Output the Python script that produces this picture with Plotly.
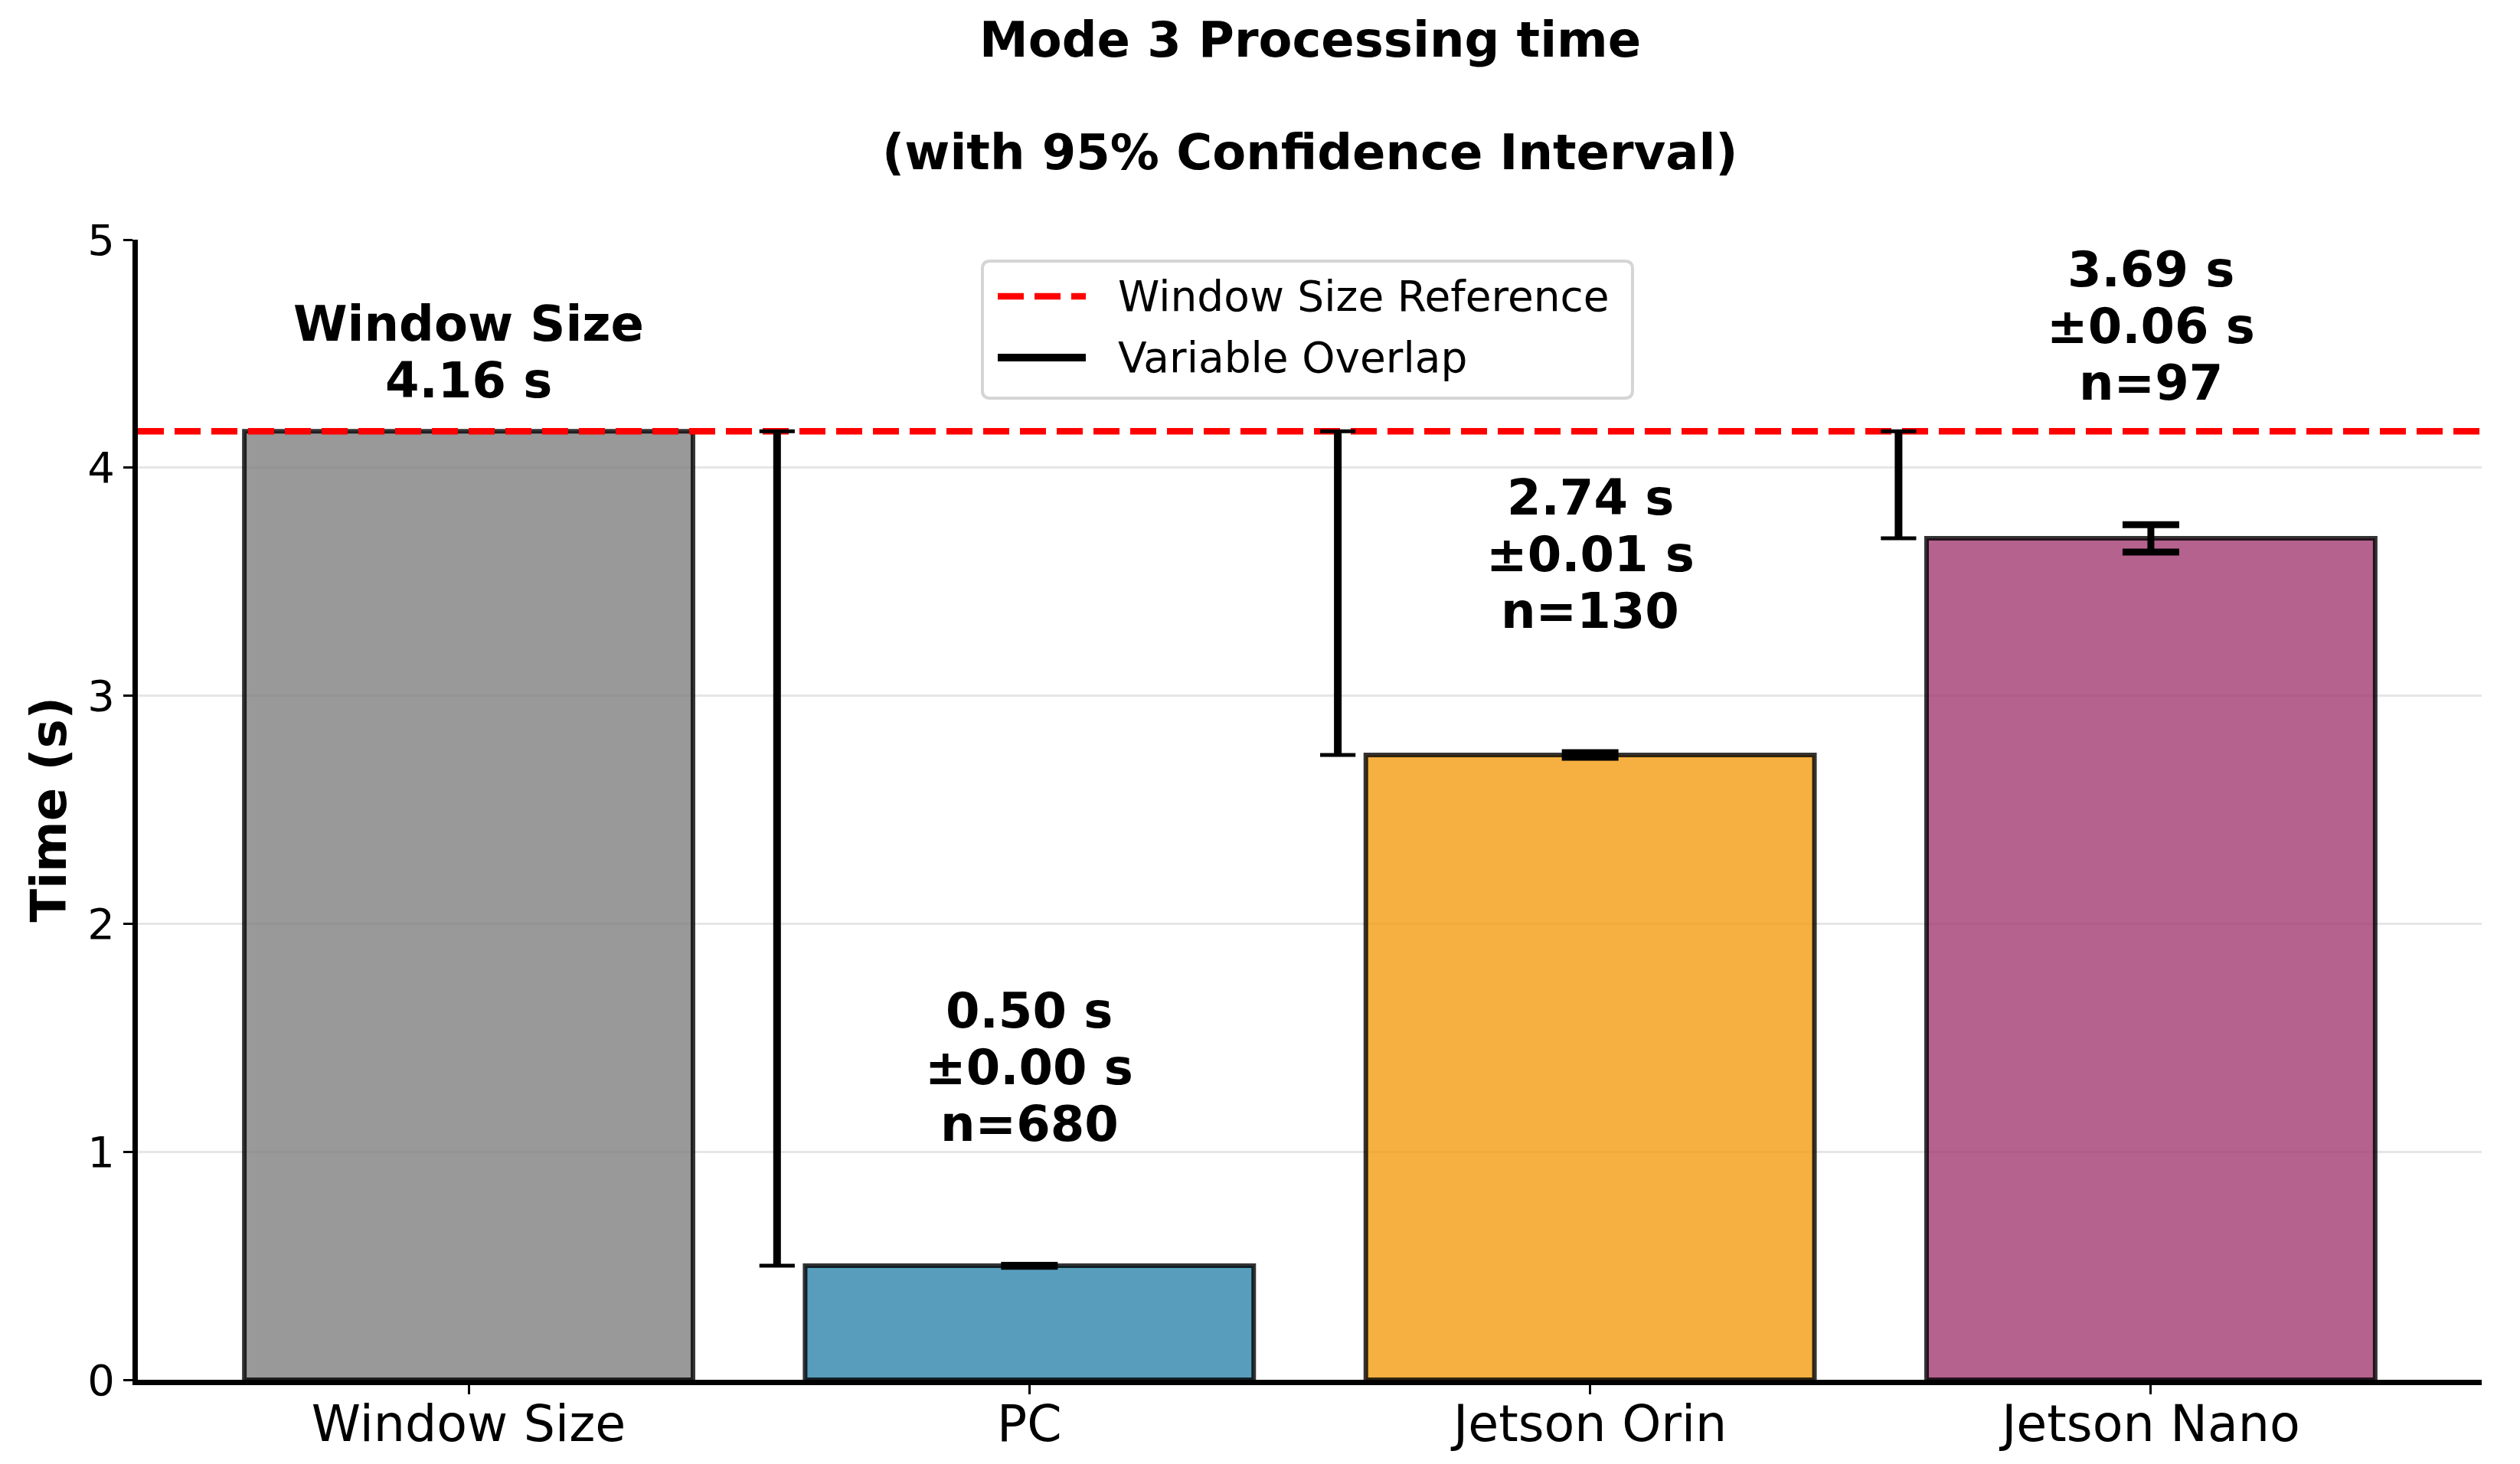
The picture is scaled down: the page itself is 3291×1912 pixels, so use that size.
import numpy as np
import plotly.graph_objects as go

# ---------------- data ----------------
categories = ["Window Size", "PC", "Jetson Orin", "Jetson Nano"]
mean_times = [4.16, 0.50, 2.74, 3.69]          # seconds
ci95 = [None, 0.002, 0.01, 0.06]               # 95% CI half-width (s)
sample_n = [None, 680, 130, 97]
window_size = 4.16
base_colors = ["#808080", "#2E86AB", "#F39C12", "#A23B72"]
y_ticks = [0, 1, 2, 3, 4, 5]
legend_labels = ["Window Size Reference", "Variable Overlap"]

# ---------------- style ----------------
FONT = "DejaVu Sans"
ALPHA = 0.8
W, H = 3291, 1912
ML, MR, MT, MB = 180, 50, 313, 110
PW, PH = W - ML - MR, H - MT - MB
x_min, x_max = -0.59, 3.59
bar_width = 0.8
overlap_offset = 0.45
label_gap = 0.5
line_step = 74
first_line_shift = 36


def rgba(hexc, a):
    hexc = hexc.lstrip("#")
    r, g, b = int(hexc[0:2], 16), int(hexc[2:4], 16), int(hexc[4:6], 16)
    return f"rgba({r},{g},{b},{a})"


def px2paper(px, py):
    """convert absolute figure pixel position to paper coordinates"""
    return (px - ML) / PW, (H - MB - py) / PH


x_pos = list(range(len(categories)))

fig = go.Figure()

# reference bar (no CI)
fig.add_trace(go.Bar(
    x=x_pos[:1], y=mean_times[:1], width=bar_width,
    marker=dict(color=rgba(base_colors[0], ALPHA),
                line=dict(color=rgba("#000000", ALPHA), width=6)),
    showlegend=False, hoverinfo="skip",
))
# device bars with CI error bars
fig.add_trace(go.Bar(
    x=x_pos[1:], y=mean_times[1:], width=bar_width,
    marker=dict(color=[rgba(c, ALPHA) for c in base_colors[1:]],
                line=dict(color=rgba("#000000", ALPHA), width=6)),
    error_y=dict(type="data", array=ci95[1:], visible=True, color="black",
                 thickness=9, width=37),
    showlegend=False, hoverinfo="skip",
))

# window size reference line
fig.add_trace(go.Scatter(
    x=[x_min, x_max], y=[window_size, window_size], mode="lines",
    line=dict(color="red", width=8.5, dash="34px,14px"),
    name=legend_labels[0], showlegend=False,
))

# variable overlap lines
ox, oy, cx, cy = [], [], [], []
for i in range(1, len(categories)):
    xp = x_pos[i] - overlap_offset
    ox += [xp, xp, None]
    oy += [mean_times[i], window_size, None]
    cx += [xp, xp]
    cy += [mean_times[i], window_size]
fig.add_trace(go.Scatter(
    x=ox, y=oy, mode="lines", line=dict(color="black", width=10),
    name=legend_labels[1], showlegend=False,
))
fig.add_trace(go.Scatter(
    x=cx, y=cy, mode="markers",
    marker=dict(symbol="line-ew", size=33, line=dict(color="black", width=5)),
    showlegend=False, hoverinfo="skip",
))

# labels above bars
annotations = []
for i, cat in enumerate(categories):
    if i == 0:
        lines = [f"{mean_times[i]:.2f} s", cat]
        anchor = mean_times[i] + 0.1
    else:
        lines = [f"n={sample_n[i]}", f"±{ci95[i]:.2f} s", f"{mean_times[i]:.2f} s"]
        anchor = mean_times[i] + ci95[i] + label_gap
    for k, t in enumerate(lines):
        annotations.append(dict(
            x=x_pos[i], y=anchor, xref="x", yref="y", text=f"<b>{t}</b>",
            showarrow=False, xanchor="center", yanchor="middle",
            yshift=first_line_shift + k * line_step,
            font=dict(family=FONT, size=64, color="black"),
        ))

# title lines
for txt, py in [("Mode 3 Processing time", 52), ("(with 95% Confidence Interval)", 199)]:
    _, yp = px2paper(0, py)
    annotations.append(dict(x=0.5, y=yp, xref="paper", yref="paper",
                            text=f"<b>{txt}</b>", showarrow=False,
                            xanchor="center", yanchor="middle",
                            font=dict(family=FONT, size=64, color="black")))
# y-axis title
xp_t, _ = px2paper(63, 0)
annotations.append(dict(x=xp_t, y=0.5, xref="paper", yref="paper",
                        text="<b>Time (s)</b>", showarrow=False, textangle=-90,
                        xanchor="center", yanchor="middle",
                        font=dict(family=FONT, size=64, color="black")))

# ---------------- custom legend (box, samples, labels) ----------------
shapes = []
bx0, by0 = px2paper(1283, 341)
bx1, by1 = px2paper(2132, 520)
rx, ry = 10 / PW, 10 / PH
path = (f"M{bx0+rx},{by0} L{bx1-rx},{by0} Q{bx1},{by0} {bx1},{by0-ry} "
        f"L{bx1},{by1+ry} Q{bx1},{by1} {bx1-rx},{by1} L{bx0+rx},{by1} "
        f"Q{bx0},{by1} {bx0},{by1+ry} L{bx0},{by0-ry} Q{bx0},{by0} {bx0+rx},{by0} Z")
shapes.append(dict(type="path", xref="paper", yref="paper", path=path,
                   fillcolor="white", line=dict(color="#d5d5d5", width=4), layer="above"))
legend_rows = [(387, dict(color="red", width=8.5, dash="34px,14px")),
               (467, dict(color="black", width=10))]
for (py, lstyle), label in zip(legend_rows, legend_labels):
    sx0, sy = px2paper(1303, py)
    sx1, _ = px2paper(1418, py)
    shapes.append(dict(type="line", xref="paper", yref="paper", x0=sx0, x1=sx1,
                       y0=sy, y1=sy, line=lstyle, layer="above"))
    tx, _ = px2paper(1458, py)
    annotations.append(dict(x=tx, y=sy, xref="paper", yref="paper", text=label,
                            showarrow=False, xanchor="left", yanchor="middle",
                            font=dict(family=FONT, size=55, color="black")))

fig.update_layout(
    width=W, height=H,
    margin=dict(l=ML, r=MR, t=MT, b=MB, pad=0, autoexpand=False),
    paper_bgcolor="white", plot_bgcolor="white",
    font=dict(family=FONT, color="black"),
    annotations=annotations, shapes=shapes,
    showlegend=False, barmode="overlay",
    xaxis=dict(range=[x_min, x_max], tickmode="array", tickvals=x_pos,
               ticktext=categories, showgrid=False, zeroline=False, automargin=False,
               showline=True, linecolor="black", linewidth=7,
               ticks="outside", ticklen=12, tickwidth=3, tickcolor="black",
               ticklabelstandoff=-17,
               tickfont=dict(family=FONT, size=65, color="black")),
    yaxis=dict(range=[0, 5], tickmode="array", tickvals=y_ticks, automargin=False,
               showgrid=True, gridcolor="#e6e6e6", gridwidth=3, zeroline=False,
               showline=True, linecolor="black", linewidth=7,
               ticks="outside", ticklen=12, tickwidth=3, tickcolor="black",
               tickfont=dict(family=FONT, size=56, color="black")),
)

fig.write_html("out.html",
               config={"displayModeBar": False},
               post_script="document.body.style.margin='0px';"
                           "document.body.style.overflow='hidden';")
